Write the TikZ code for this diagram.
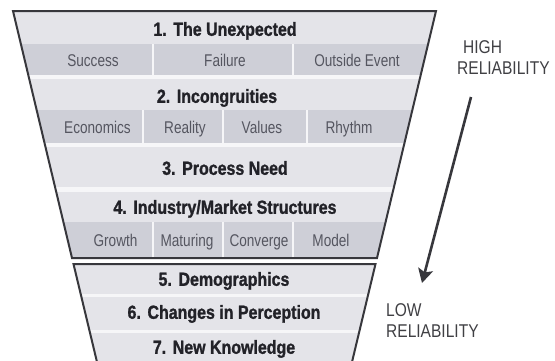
\documentclass[tikz,border=0pt]{standalone}
\usepackage{fontspec}
\setmainfont[FakeStretch=0.84,BoldFeatures={FakeBold=1.2}]{Liberation Sans}
\newfontfamily\subfont[FakeStretch=0.8]{Liberation Sans}
\usetikzlibrary{arrows.meta}
\definecolor{bandc}{RGB}{228,228,233}
\definecolor{subc}{RGB}{206,207,215}
\definecolor{gapc}{RGB}{246,246,248}
\definecolor{linec}{RGB}{55,55,60}
\definecolor{titlec}{RGB}{34,34,40}
\definecolor{subtc}{RGB}{85,86,96}
\definecolor{sidec}{RGB}{64,64,68}
\tikzset{
  outline/.style={draw=linec, line width=2pt, line join=miter},
  divider/.style={draw=gapc, line width=1.6pt},
  title/.style={font=\fontsize{19}{20}\selectfont\bfseries, text=titlec, inner sep=0pt, text height=13.6pt, text depth=0pt, anchor=center},
  sublabel/.style={font=\fontsize{17}{18}\subfont, text=subtc, inner sep=0pt, text height=12.2pt, text depth=0pt, anchor=center},
  sidelabel/.style={font=\fontsize{18.5}{21}\selectfont, text=sidec, inner sep=0pt, anchor=west, align=left},
}
\begin{document}
\begin{tikzpicture}[x=1pt,y=-1pt]
\useasboundingbox (0,0) rectangle (555,360);
\fill[white] (0,0) rectangle (555,360);
% upper trapezoid
\begin{scope}
\clip (13,11) -- (436,11) -- (377,258) -- (72,258) -- cycle;
\fill[gapc] (0,11) rectangle (555,258);
\fill[bandc] (0,11) rectangle (555,44);
\fill[subc] (0,44) rectangle (555,75);
\fill[bandc] (0,79) rectangle (555,110);
\fill[subc] (0,110) rectangle (555,143);
\fill[bandc] (0,147) rectangle (555,187);
\fill[bandc] (0,192) rectangle (555,222);
\fill[subc] (0,222) rectangle (555,258);
\draw[divider] (153,44) -- (153,75);
\draw[divider] (293,44) -- (293,75);
\draw[divider] (143,110) -- (143,143);
\draw[divider] (223,110) -- (223,143);
\draw[divider] (307,110) -- (307,143);
\draw[divider] (153,222) -- (153,258);
\draw[divider] (223,222) -- (223,258);
\draw[divider] (293,222) -- (293,258);
\end{scope}
\draw[outline] (13,11) -- (436,11) -- (377,258) -- (72,258) -- cycle;
% lower trapezoid
\begin{scope}
\clip (73.5,264) -- (375.5,264) -- (352,362) -- (97,362) -- cycle;
\fill[gapc] (0,264) rectangle (555,362);
\fill[bandc] (0,264) rectangle (555,294);
\fill[bandc] (0,297) rectangle (555,330);
\fill[bandc] (0,333) rectangle (555,362);
\end{scope}
\draw[outline] (97,362) -- (73.5,264) -- (375.5,264) -- (352,362);
% titles
\node[title] (t1) at (225,29) {1.\hspace{0.35em}The Unexpected};
\node[title] (t2) at (217,96) {2.\hspace{0.35em}Incongruities};
\node[title] (t3) at (225,168) {3.\hspace{0.35em}Process Need};
\node[title] (t4) at (225,207) {4.\hspace{0.35em}Industry/Market Structures};
\node[title] (t5) at (224,279) {5.\hspace{0.35em}Demographics};
\node[title] (t6) at (224,312) {6.\hspace{0.35em}Changes in Perception};
\node[title] (t7) at (224,347) {7.\hspace{0.35em}New Knowledge};
% sub labels
\node[sublabel] (s11) at (93,60) {Success};
\node[sublabel] (s12) at (225,60) {Failure};
\node[sublabel] (s13) at (357,60) {Outside Event};
\node[sublabel] (s21) at (97.5,127) {Economics};
\node[sublabel] (s22) at (185,127) {Reality};
\node[sublabel] (s23) at (262,127) {Values};
\node[sublabel] (s24) at (349,127) {Rhythm};
\node[sublabel] (s41) at (115.5,240) {Growth};
\node[sublabel] (s42) at (187,240) {Maturing};
\node[sublabel] (s43) at (259,240) {Converge};
\node[sublabel] (s44) at (331,240) {Model};
% side labels
\node[sidelabel] (high) at (457,58) {\hspace*{6pt}HIGH\\RELIABILITY};
\node[sidelabel] (low) at (386,321) {LOW\\RELIABILITY};
\coordinate (astart) at (471,97);
\coordinate (aend) at (422,283);
\draw[draw=linec, line width=2.6pt, -{Stealth[length=14pt,width=15pt,inset=3pt]}] (astart) -- (aend);
\end{tikzpicture}
\end{document}
